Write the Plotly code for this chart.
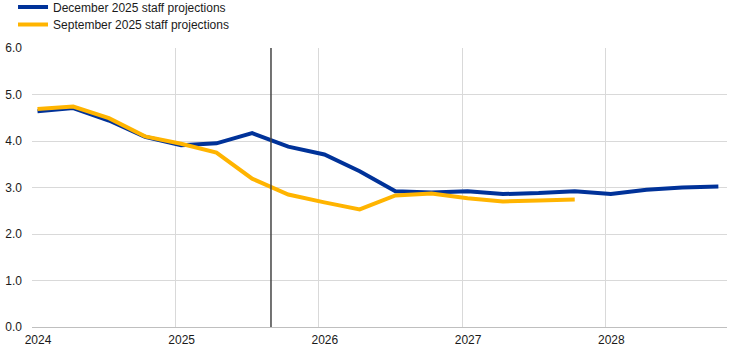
import pandas as pd
import plotly.graph_objects as go

quarters = ["2024Q1", "2024Q2", "2024Q3", "2024Q4",
            "2025Q1", "2025Q2", "2025Q3", "2025Q4",
            "2026Q1", "2026Q2", "2026Q3", "2026Q4",
            "2027Q1", "2027Q2", "2027Q3", "2027Q4",
            "2028Q1", "2028Q2", "2028Q3", "2028Q4"]

december_2025 = [4.64, 4.71, 4.44, 4.09, 3.91, 3.95, 4.17, 3.88, 3.71, 3.35,
                 2.92, 2.89, 2.92, 2.86, 2.88, 2.92, 2.86, 2.95, 3.00, 3.02]

september_2025 = [4.69, 4.74, 4.49, 4.10, 3.94, 3.75, 3.19, 2.85, 2.68, 2.53,
                  2.83, 2.87, 2.77, 2.70, 2.72, 2.74]

year_ticks = ["2024", "2025", "2026", "2027", "2028"]
y_ticks = [0, 1, 2, 3, 4, 5, 6]
cutoff_date = "2025-09-01"

def q_to_date(q):
    return (pd.Period(q, freq="Q").start_time + pd.Timedelta(days=14)).strftime("%Y-%m-%d")

x_dec = [q_to_date(q) for q in quarters]
x_sep = [q_to_date(q) for q in quarters[:len(september_2025)]]

BLUE = "#003299"
YELLOW = "#FFB400"
FONT = "Liberation Sans, Arial, sans-serif"
TXT = "#1a1a1a"

fig = go.Figure()
fig.add_trace(go.Scatter(x=x_dec, y=december_2025, mode="lines",
                         name="December 2025 staff projections",
                         line=dict(color=BLUE, width=4), legend="legend"))
fig.add_trace(go.Scatter(x=x_sep, y=september_2025, mode="lines",
                         name="September 2025 staff projections",
                         line=dict(color=YELLOW, width=4), legend="legend2"))

fig.add_shape(type="line", xref="x", yref="y", x0=cutoff_date, x1=cutoff_date,
              y0=0, y1=6, line=dict(color="#444444", width=1.5))

leg_common = dict(x=-0.0273, xanchor="left", yanchor="middle",
                  orientation="v", font=dict(family=FONT, size=12, color=TXT),
                  bgcolor="rgba(0,0,0,0)")

fig.update_layout(
    width=745, height=355,
    margin=dict(l=32, r=18, t=48, b=28, autoexpand=False),
    paper_bgcolor="white", plot_bgcolor="white",
    font=dict(family=FONT, size=12, color=TXT),
    showlegend=True,
    legend=dict(y=1 + 41 / 279, **leg_common),
    legend2=dict(y=1 + 23.5 / 279, **leg_common),
    xaxis=dict(type="date", range=["2024-01-01", "2028-11-06"],
               tickvals=[f"{y}-01-01" for y in year_ticks],
               ticktext=year_ticks, ticklabelshift=6, ticklabelstandoff=2,
               automargin=False,
               showgrid=True, gridcolor="#d9d9d9", gridwidth=1,
               showline=True, linecolor="#bfbfbf", linewidth=1,
               ticks="", zeroline=False, tickfont=dict(size=12, color=TXT)),
    yaxis=dict(range=[0, 6], tickvals=y_ticks, automargin=False,
               ticktext=[f"{v:.1f}" for v in y_ticks],
               showgrid=True, gridcolor="#d9d9d9", gridwidth=1,
               zeroline=False, showline=False, ticks="",
               ticklabelstandoff=9, tickfont=dict(size=12, color=TXT)),
)

fig.write_html("out.html",
               config={"displayModeBar": False},
               post_script="document.body.style.margin='0';"
                           "document.body.style.overflow='hidden';")
